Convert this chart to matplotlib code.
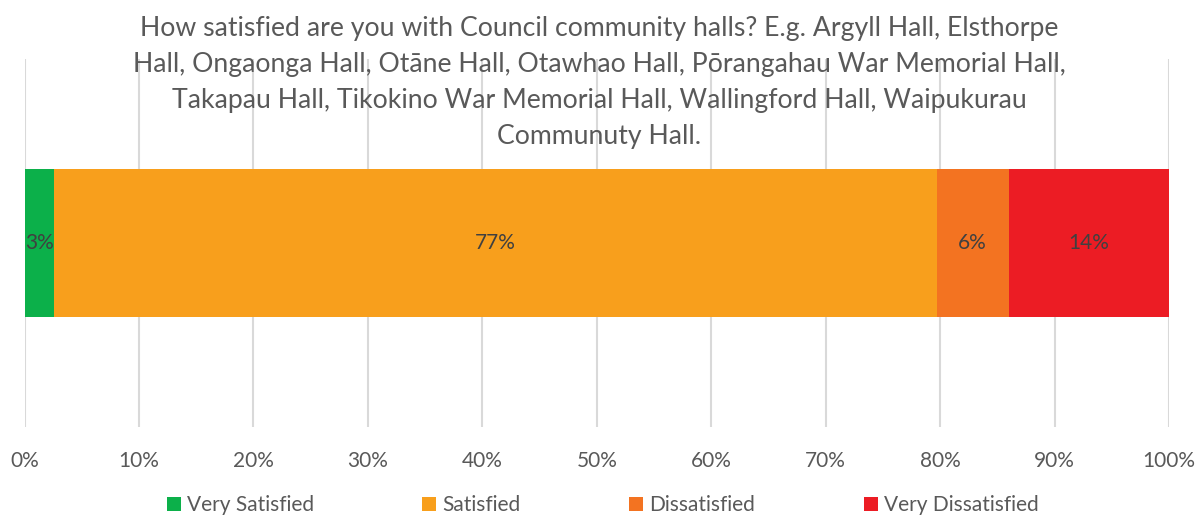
import matplotlib
matplotlib.use("Agg")
import matplotlib.pyplot as plt
from matplotlib.ticker import MultipleLocator, PercentFormatter

plt.rcParams['font.family'] = ['Lato', 'DejaVu Sans']

# survey shares, percent of respondents
categories = ["Very Satisfied", "Satisfied", "Dissatisfied", "Very Dissatisfied"]
shares = [2.6, 77.1, 6.3, 14.0]
colors = ["#0CB04A", "#F89F1C", "#F37321", "#EC1C24"]

title_lines = [
    "How satisfied are you with Council community halls? E.g. Argyll Hall, Elsthorpe",
    "Hall, Ongaonga Hall, Otāne Hall, Otawhao Hall, Pōrangahau War Memorial Hall,",
    "Takapau Hall, Tikokino War Memorial Hall, Wallingford Hall, Waipukurau",
    "Communuty Hall.",
]

text_grey = "#595959"
label_grey = "#404040"

fig = plt.figure(figsize=(11.98, 5.19), dpi=100)
ax = fig.add_axes([0.0205, 0.1773, 0.9553, 0.709])

left = 0
handles = []
for name, val, col in zip(categories, shares, colors):
    h = ax.barh(0, val, left=left, height=0.4, color=col, label=name, zorder=3)
    handles.append(h)
    ax.text(left + val / 2, 0, f"{val:.0f}%", ha="center", va="center",
            fontsize=15, color=label_grey, zorder=4)
    left += val

ax.set_xlim(0, 100)
ax.set_ylim(-0.5, 0.5)
ax.xaxis.set_major_locator(MultipleLocator(10))
ax.xaxis.set_major_formatter(PercentFormatter(decimals=0))
ax.set_yticks([])
ax.grid(axis="x", color="#D9D9D9", linewidth=1.5, zorder=0)
ax.tick_params(axis="x", length=0, pad=17.5, labelsize=15, labelcolor=text_grey)
for s in ax.spines.values():
    s.set_visible(False)

fig.text(0.5, 0.969, "\n".join(title_lines), ha="center", va="top",
         fontsize=19.2, color=text_grey, linespacing=1.55, zorder=5)

fig.legend(handles=handles, loc="center", bbox_to_anchor=(0.503, 0.027),
           ncol=4, frameon=False, fontsize=15, handlelength=0.67,
           handleheight=0.67, handletextpad=0.3, columnspacing=5.2,
           labelcolor=text_grey)

fig.savefig("out.png", dpi=100)
